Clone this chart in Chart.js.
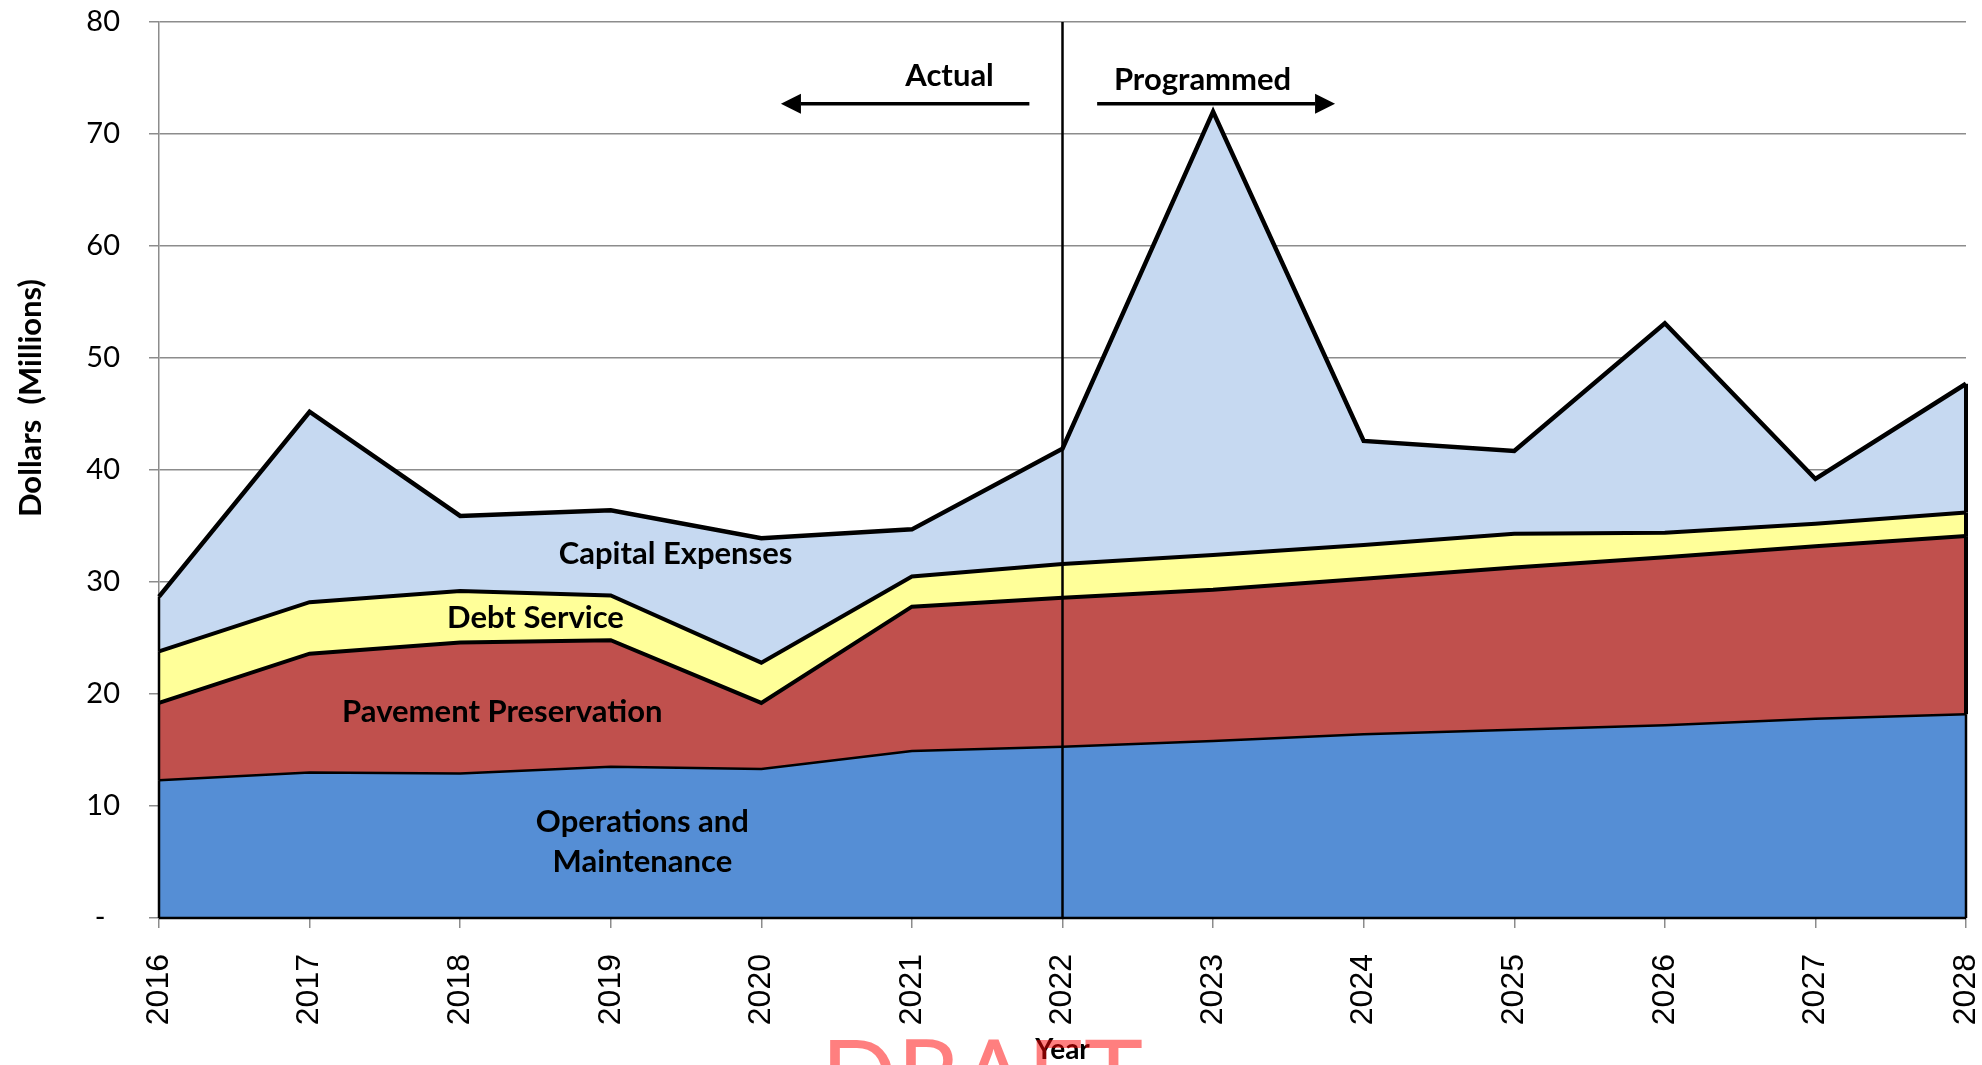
<!DOCTYPE html>
<html>
<head>
<meta charset="utf-8">
<script src="https://cdn.jsdelivr.net/npm/chart.js@4.4.1/dist/chart.umd.min.js"></script>
<style>
html,body{margin:0;padding:0;background:#ffffff;overflow:hidden}
canvas{display:block}
</style>
</head>
<body>
<canvas id="chart" width="1982" height="1065"></canvas>
<script>
// ---- data (values in millions of dollars) ----
const years = ['2016','2017','2018','2019','2020','2021','2022','2023','2024','2025','2026','2027','2028'];
const operationsMaintenance = [12.3, 13.0, 12.9, 13.5, 13.3, 14.9, 15.3, 15.8, 16.4, 16.8, 17.2, 17.8, 18.2];
const pavementPreservation  = [6.9, 10.6, 11.7, 11.3, 5.9, 12.9, 13.3, 13.5, 13.9, 14.5, 15.0, 15.4, 15.9];
const debtService           = [4.6, 4.6, 4.6, 4.0, 3.6, 2.7, 3.0, 3.1, 3.0, 3.0, 2.2, 2.0, 2.1];
const capitalExpenses       = [4.9, 17.0, 6.7, 7.6, 11.1, 4.2, 10.3, 39.6, 9.3, 7.4, 18.7, 4.0, 11.5];
const yTickValues = [0, 10, 20, 30, 40, 50, 60, 70, 80];
const yTickLabels = ['-', '10', '20', '30', '40', '50', '60', '70', '80'];
const seriesNames = ['Operations and Maintenance', 'Pavement Preservation', 'Debt Service', 'Capital Expenses'];
const dividerYear = '2022';

// ---- in-chart labels (data coordinates: category index, value) ----
const areaLabels = [
  { lines: ['Capital Expenses'], x: 3.43, y: 32.5 },
  { lines: ['Debt Service'], x: 2.50, y: 26.8 },
  { lines: ['Pavement Preservation'], x: 2.28, y: 18.4 },
  { lines: ['Operations and', 'Maintenance'], x: 3.21, y: 6.8 }
];
const periodLabels = [
  { text: 'Actual', x: 5.25, y: 75.2, arrowFrom: 5.78, arrowTo: 4.13, arrowY: 72.7 },
  { text: 'Programmed', x: 6.93, y: 74.8, arrowFrom: 6.23, arrowTo: 7.81, arrowY: 72.7 }
];

const LABEL_FONT = 'Lato, "Open Sans", sans-serif';

const overlay = {
  id: 'overlay',
  afterDatasetsDraw(chart) {
    const ctx = chart.ctx;
    const xs = chart.scales.x, ys = chart.scales.y;
    const area = chart.chartArea;
    ctx.save();
    const n = years.length;
    const zero = ys.getPixelForValue(0);
    chart.data.datasets.forEach((ds, i) => {
      const meta = chart.getDatasetMeta(i);
      const prev = i > 0 ? chart.getDatasetMeta(i - 1) : null;
      [[0, 2.5], [n - 1, 4]].forEach(([idx, w]) => {
        const pt = meta.data[idx];
        const bottom = prev ? prev.data[idx].y : zero;
        ctx.beginPath();
        ctx.strokeStyle = '#000';
        ctx.lineWidth = i === 0 ? Math.min(w, 2.5) : w;
        ctx.moveTo(pt.x, bottom);
        ctx.lineTo(pt.x, pt.y);
        ctx.stroke();
      });
    });
    ctx.beginPath();
    ctx.strokeStyle = '#000';
    ctx.lineWidth = 2.5;
    ctx.moveTo(area.left, zero);
    ctx.lineTo(area.right, zero);
    ctx.stroke();

    const dx = xs.getPixelForValue(years.indexOf(dividerYear));
    ctx.beginPath();
    ctx.lineWidth = 2.5;
    ctx.moveTo(dx, area.top);
    ctx.lineTo(dx, area.bottom);
    ctx.stroke();

    ctx.fillStyle = '#000';
    ctx.font = 'bold 31px ' + LABEL_FONT;
    ctx.textAlign = 'center';
    ctx.textBaseline = 'middle';
    areaLabels.forEach(l => {
      const px = xs.getPixelForValue(l.x);
      let py = ys.getPixelForValue(l.y);
      const lh = 40;
      py -= (l.lines.length - 1) * lh / 2;
      l.lines.forEach((t, k) => ctx.fillText(t, px, py + k * lh));
    });

    periodLabels.forEach(p => {
      ctx.font = 'bold 31px ' + LABEL_FONT;
      ctx.fillText(p.text, xs.getPixelForValue(p.x), ys.getPixelForValue(p.y));
      const x1 = xs.getPixelForValue(p.arrowFrom);
      const x2 = xs.getPixelForValue(p.arrowTo);
      const ay = ys.getPixelForValue(p.arrowY);
      const dir = Math.sign(x2 - x1);
      const headLen = 20, headHalf = 10;
      ctx.beginPath();
      ctx.lineWidth = 3.5;
      ctx.moveTo(x1, ay);
      ctx.lineTo(x2 - dir * headLen, ay);
      ctx.stroke();
      ctx.beginPath();
      ctx.moveTo(x2, ay);
      ctx.lineTo(x2 - dir * headLen, ay - headHalf);
      ctx.lineTo(x2 - dir * headLen, ay + headHalf);
      ctx.closePath();
      ctx.fill();
    });
    ctx.restore();
  },
  afterDraw(chart) {
    const ctx = chart.ctx;
    const area = chart.chartArea;
    ctx.save();
    ctx.fillStyle = '#000';
    ctx.font = 'bold 31px ' + LABEL_FONT;
    ctx.textAlign = 'center';
    ctx.textBaseline = 'middle';
    ctx.translate(31, 398);
    ctx.rotate(-Math.PI / 2);
    ctx.fillText('Dollars  (Millions)', 0, 0);
    ctx.restore();

    ctx.save();
    ctx.fillStyle = '#000';
    ctx.font = 'bold 28px ' + LABEL_FONT;
    ctx.textAlign = 'center';
    ctx.textBaseline = 'middle';
    ctx.fillText('Year', (area.left + area.right) / 2, 1050);
    ctx.fillStyle = 'rgba(255,0,0,0.5)';
    ctx.font = '100px ' + LABEL_FONT;
    ctx.textBaseline = 'alphabetic';
    ctx.fillText('DRAFT', 982, 1112);
    ctx.restore();
  }
};

const fills = ['#558ED5', '#C0504D', '#FFFF99', '#C6D9F1'];
const borders = [2.5, 4, 4, 4.5];
const seriesData = [operationsMaintenance, pavementPreservation, debtService, capitalExpenses];

new Chart(document.getElementById('chart'), {
  type: 'line',
  data: {
    labels: years,
    datasets: seriesData.map((d, i) => ({
      label: seriesNames[i],
      data: d,
      backgroundColor: fills[i],
      borderColor: '#000000',
      borderWidth: borders[i],
      borderJoinStyle: 'miter',
      pointRadius: 0,
      tension: 0,
      fill: i === 0 ? 'origin' : '-1'
    }))
  },
  options: {
    responsive: false,
    devicePixelRatio: 1,
    animation: false,
    layout: { padding: { left: 0, right: 16, top: 22, bottom: 0 } },
    plugins: {
      legend: { display: false },
      tooltip: { enabled: false },
      title: { display: false }
    },
    scales: {
      x: {
        type: 'category',
        offset: false,
        grid: { display: true, drawOnChartArea: false, drawTicks: true, tickLength: 10, color: '#8c8c8c', lineWidth: 1.5 },
        border: { display: false },
        ticks: {
          minRotation: 90, maxRotation: 90, autoSkip: false, padding: 26,
          color: '#000', font: { family: '"Liberation Sans", Arial, sans-serif', size: 32 }
        },
        afterFit(scale) { scale.height = 147; scale.paddingLeft = 0; scale.paddingRight = 0; }
      },
      y: {
        stacked: true,
        min: 0, max: 80,
        afterBuildTicks(scale) { scale.ticks = yTickValues.map(v => ({ value: v })); },
        grid: { color: '#8c8c8c', lineWidth: 1.5, drawTicks: true, tickLength: 10 },
        border: { display: true, color: '#8c8c8c', width: 1.5 },
        ticks: {
          padding: 29, color: '#000',
          font: { family: LABEL_FONT, size: 29 },
          callback: (v) => { const k = yTickValues.indexOf(v); return k === 0 ? yTickLabels[k] + '\u2002' : yTickLabels[k]; }
        },
        afterFit(scale) { scale.width = 159; scale.paddingTop = 0; scale.paddingBottom = 0; }
      }
    }
  },
  plugins: [overlay]
});
</script>
</body>
</html>
